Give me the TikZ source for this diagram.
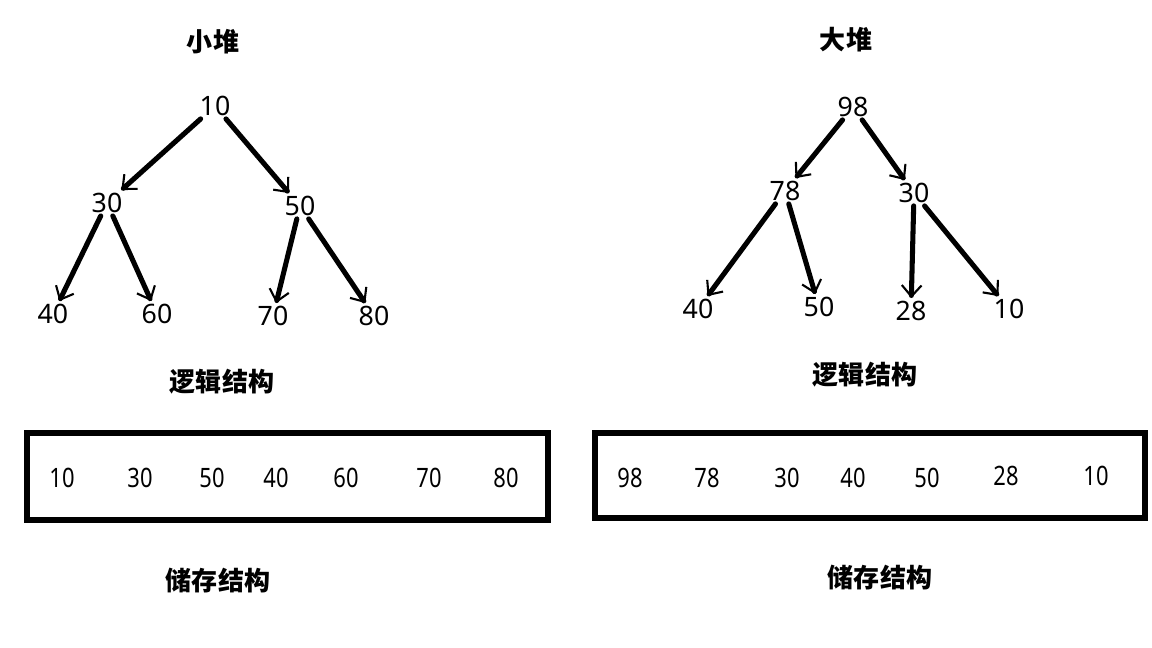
\documentclass[tikz,border=0pt]{standalone}
\usepackage{fontspec}
\setmainfont{Noto Sans CJK SC}
\newfontfamily\digitfont{Noto Sans}
\newfontfamily\cellfont[FakeStretch=0.82]{Noto Sans}
\usepackage{tikz}
\usetikzlibrary{arrows.meta}

\begin{document}
\begin{tikzpicture}[x=0.025cm, y=-0.025cm,
    num/.style={inner sep=2pt, font=\digitfont\fontsize{19}{21}\selectfont},
    cell/.style={inner sep=0pt, font=\cellfont\fontsize{19}{21}\selectfont},
    title/.style={inner sep=0pt, font=\fontsize{18.5}{20}\selectfont\bfseries},
    arr/.style={-{Straight Barb[length=8pt, width=14pt, line width=1.5pt]}, line width=3.6pt, line cap=round},
    store/.style={line width=3.8pt}
]
\useasboundingbox (0,0) rectangle (1152,648);

% small heap, logical structure
\node[title] (ltitle) at (213,42) {小堆};
\node[num] (l10) at (215,106) {10};
\node[num] (l30) at (107,203) {30};
\node[num] (l50) at (300,206) {50};
\node[num] (l40) at (53,314) {40};
\node[num] (l60) at (157,314) {60};
\node[num] (l70) at (273,316) {70};
\node[num] (l80) at (374,316) {80};
\draw[arr] (l10) -- (l30);
\draw[arr] (l10) -- (l50);
\draw[arr] (l30) -- (l40);
\draw[arr] (l30) -- (l60);
\draw[arr] (l50) -- (l70);
\draw[arr] (l50) -- (l80);
\node[title] (llogic) at (222,382) {逻辑结构};

% small heap, storage
\draw[store] (27,433) rectangle (548,520);
\node[cell] (la1) at (62,478) {10};
\node[cell] (la2) at (140,478) {30};
\node[cell] (la3) at (212,478) {50};
\node[cell] (la4) at (276,478) {40};
\node[cell] (la5) at (346,478) {60};
\node[cell] (la6) at (429,478) {70};
\node[cell] (la7) at (506,478) {80};
\node[title] (lstore) at (218,581) {储存结构};

% big heap, logical structure
\node[title] (rtitle) at (846,40) {大堆};
\node[num] (r98) at (853,107) {98};
\node[num] (r78) at (785,191) {78};
\node[num] (r30) at (914,193) {30};
\node[num] (r40) at (698,309) {40};
\node[num] (r50) at (819,307) {50};
\node[num] (r28) at (911,311) {28};
\node[num] (r10) at (1009,309) {10};
\draw[arr] (r98) -- (r78);
\draw[arr] (r98) -- (r30);
\draw[arr] (r78) -- (r40);
\draw[arr] (r78) -- (r50);
\draw[arr] (r30) -- (r28);
\draw[arr] (r30) -- (r10);
\node[title] (rlogic) at (865,375) {逻辑结构};

% big heap, storage
\draw[store] (595,433) rectangle (1145,518);
\node[cell] (ra1) at (630,478) {98};
\node[cell] (ra2) at (707,478) {78};
\node[cell] (ra3) at (787,478) {30};
\node[cell] (ra4) at (853,478) {40};
\node[cell] (ra5) at (927,478) {50};
\node[cell] (ra6) at (1006,476) {28};
\node[cell] (ra7) at (1096,476) {10};
\node[title] (rstore) at (880,578) {储存结构};
\end{tikzpicture}
\end{document}
